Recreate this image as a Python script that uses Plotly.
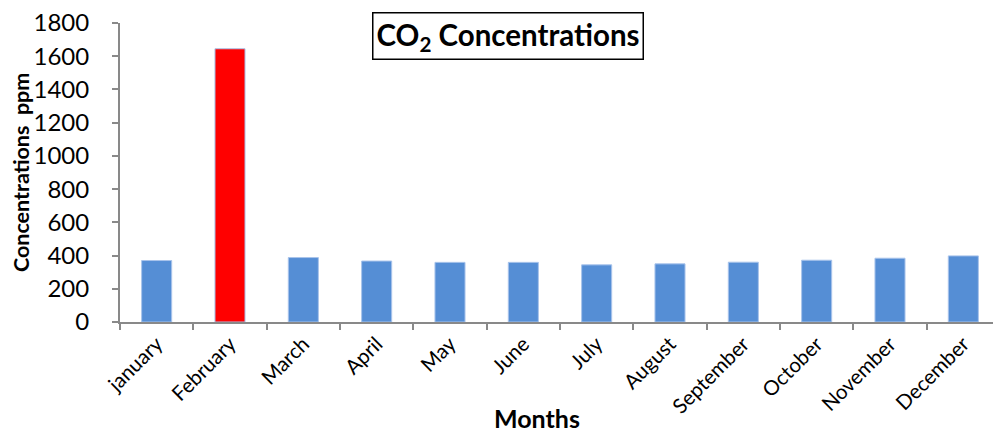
import plotly.graph_objects as go

months = ["january", "February", "March", "April", "May", "June", "July",
          "August", "September", "October", "November", "December"]
co2_ppm = [370, 1645, 388, 367, 359, 359, 344, 350, 360, 372, 384, 398]
bar_colors = ["#558ED5", "#FF0000", "#558ED5", "#558ED5", "#558ED5", "#558ED5",
              "#558ED5", "#558ED5", "#558ED5", "#558ED5", "#558ED5", "#558ED5"]
y_ticks = [0, 200, 400, 600, 800, 1000, 1200, 1400, 1600, 1800]

FONT = "Lato"

fig = go.Figure()
fig.add_trace(go.Bar(
    x=months, y=co2_ppm,
    marker=dict(color=bar_colors, line=dict(color="#A9C4EB", width=1)),
))

fig.update_layout(
    width=993, height=424,
    margin=dict(l=112, r=1, t=15, b=110, autoexpand=False),
    paper_bgcolor="white", plot_bgcolor="white",
    bargap=0.59,
    showlegend=False,
    font=dict(family=FONT, size=20, color="black"),
    xaxis=dict(
        type="category", automargin=False,
        showline=True, linecolor="#898989", linewidth=2,
        ticks="outside", tickson="boundaries", ticklen=6, tickcolor="#898989", tickwidth=2,
        tickangle=-45, tickfont=dict(family=FONT, size=20.5, color="black"),
        ticklabeloverflow="allow",
        showgrid=False, zeroline=False,
    ),
    yaxis=dict(
        range=[0, 1800], tickvals=y_ticks, automargin=False,
        showline=True, linecolor="#898989", linewidth=2,
        ticks="outside", ticklen=6, tickcolor="#898989", tickwidth=2,
        tickfont=dict(family=FONT, size=24, color="black"),
        ticklabelstandoff=18, ticklabeloverflow="allow",
        showgrid=False, zeroline=False,
    ),
    annotations=[
        dict(text="<b>CO<sub>2</sub> Concentrations</b>", xref="paper", yref="paper",
             x=0.441, y=0.957, xanchor="center", yanchor="middle", showarrow=False,
             font=dict(family=FONT, size=29.5, color="black"),
             bordercolor="black", borderwidth=1.5, borderpad=3, bgcolor="white"),
        dict(text="<b>Concentrations  ppm</b>", xref="paper", yref="paper",
             x=-0.113, y=0.50, xanchor="center", yanchor="middle", textangle=-90,
             showarrow=False, font=dict(family=FONT, size=21.5, color="black")),
        dict(text="<b>Months</b>", xref="paper", yref="paper",
             x=0.474, y=-0.321, xanchor="center", yanchor="middle",
             showarrow=False, font=dict(family=FONT, size=25, color="black")),
    ],
)

fig.write_html("out.html")
